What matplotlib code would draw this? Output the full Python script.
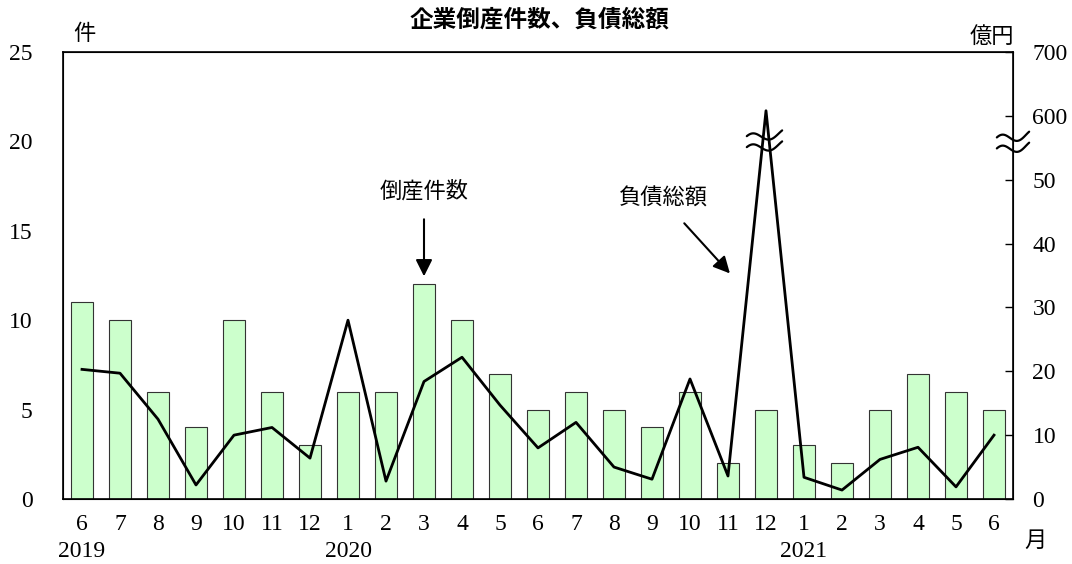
import numpy as np
import matplotlib
matplotlib.use("Agg")
import matplotlib.pyplot as plt

months = ["6", "7", "8", "9", "10", "11", "12", "1", "2", "3", "4", "5", "6",
          "7", "8", "9", "10", "11", "12", "1", "2", "3", "4", "5", "6"]
years = {0: "2019", 7: "2020", 19: "2021"}
counts = [11, 10, 6, 4, 10, 6, 3, 6, 6, 12, 10, 7, 5, 6, 5, 4, 6, 2, 5, 3, 2, 5, 7, 6, 5]
amounts = [20.3, 19.7, 12.5, 2.2, 10.0, 11.2, 6.4, 28.0, 2.8, 18.4, 22.2, 14.7, 8.0,
           12.0, 5.0, 3.1, 18.8, 3.6, 608, 3.4, 1.4, 6.2, 8.1, 1.9, 10.0]
right_ticks = [0, 10, 20, 30, 40, 50, 600, 700]
left_ticks = [0, 5, 10, 15, 20, 25]

NUM = "Liberation Serif"
JP = "Noto Sans CJK JP"


def brk(v):
    v = np.asarray(v, dtype=float)
    return np.where(v <= 55, v, 55 + (v - 550) / 10.0)


fig = plt.figure(figsize=(10.72, 5.64), dpi=100)
ax = fig.add_axes([63 / 1072, 1 - 499 / 564, (1013 - 63) / 1072, (499 - 52) / 564])
x = np.arange(len(counts))
ax.bar(x, counts, width=0.58, color="#ccffcc", edgecolor="#333333", linewidth=0.8, zorder=2)
ax.set_xlim(-0.5, len(counts) - 0.5)
ax.set_ylim(0, 25)
ax.set_yticks(left_ticks)
ax.set_yticklabels([str(t) for t in left_ticks], fontfamily=NUM, fontsize=17)
ax.tick_params(axis="y", length=0, pad=22)
ax.set_xticks(x)
ax.set_xticklabels(months, fontfamily=NUM, fontsize=17)
ax.tick_params(axis="x", length=0, pad=11)
for i, yl in years.items():
    ax.text(i, -0.118, yl, transform=ax.get_xaxis_transform(), ha="center", va="center",
            fontfamily=NUM, fontsize=17)
for s in ax.spines.values():
    s.set_linewidth(1.2)

ax2 = ax.twinx()
ax2.set_ylim(0, 70)
ax2.plot(x, brk(amounts), color="black", linewidth=2, zorder=3)
ax2.set_yticks(brk(right_ticks))
ax2.set_yticklabels([str(t) for t in right_ticks], fontfamily=NUM, fontsize=17)
ax2.tick_params(axis="y", direction="in", length=6, pad=14, width=1)

# break marks (wavy double line)
tt = np.linspace(0, 1, 80)
def draw_break(xc, yc, xw):
    xs = xc + (tt - 0.5) * xw
    wave = 0.7 * np.cos(2 * np.pi * (tt - 0.15)) + 0.9 * (tt - 0.5)
    for off in (0.86, -0.86):
        ax2.plot(xs, yc + off + wave, color="black", lw=1.6, zorder=6, clip_on=False,
                 solid_capstyle="round")

draw_break(17.96, 56.0, 0.93)
draw_break(24.5, 55.8, 0.85)

# annotations
ax.annotate("", xy=(9, 12.3), xytext=(9, 15.8),
            arrowprops=dict(arrowstyle="-|>", color="black", lw=1.5, mutation_scale=25))
ax.text(9, 17.2, "倒産件数", ha="center", va="center", fontfamily=JP, fontsize=16)
ax2.annotate("", xy=(17.1, brk(35)), xytext=(15.8, brk(43.5)),
             arrowprops=dict(arrowstyle="-|>", color="black", lw=1.5, mutation_scale=25))
ax2.text(15.3, brk(47.2), "負債総額", ha="center", va="center", fontfamily=JP, fontsize=16)

fig.text(540 / 1072, 1 - 20 / 564, "企業倒産件数、負債総額", ha="center", va="center",
         fontfamily=JP, fontsize=17, fontweight="bold")
fig.text(84 / 1072, 1 - 34 / 564, "件", ha="center", va="center", fontfamily=JP, fontsize=16)
fig.text(992 / 1072, 1 - 36 / 564, "億円", ha="center", va="center", fontfamily=JP, fontsize=16)
fig.text(1035 / 1072, 1 - 540 / 564, "月", ha="center", va="center", fontfamily=JP, fontsize=16)

fig.savefig("out.png", dpi=100)
